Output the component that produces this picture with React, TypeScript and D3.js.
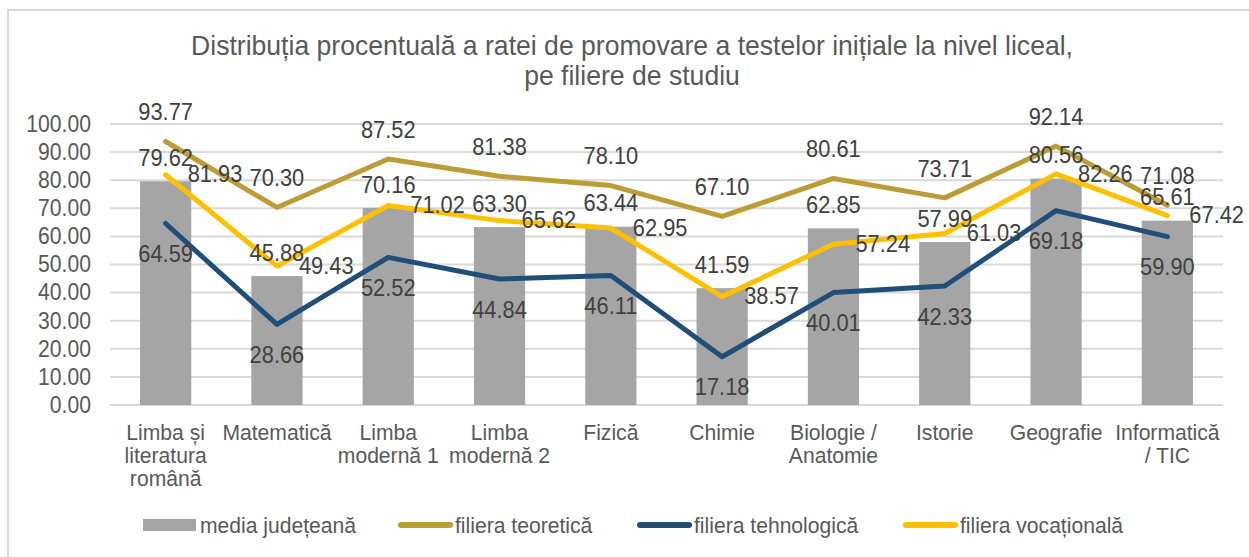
import React from "react";
import * as d3 from "d3";

const categories = [
  ["Limba și", "literatura", "română"],
  ["Matematică"],
  ["Limba", "modernă 1"],
  ["Limba", "modernă 2"],
  ["Fizică"],
  ["Chimie"],
  ["Biologie /", "Anatomie"],
  ["Istorie"],
  ["Geografie"],
  ["Informatică", "/ TIC"],
];
const mediaJudeteana = [79.62, 45.88, 70.16, 63.3, 63.44, 41.59, 62.85, 57.99, 80.56, 65.61];
const filieraTeoretica = [93.77, 70.3, 87.52, 81.38, 78.1, 67.1, 80.61, 73.71, 92.14, 71.08];
const filieraTehnologica = [64.59, 28.66, 52.52, 44.84, 46.11, 17.18, 40.01, 42.33, 69.18, 59.9];
const filieraVocationala = [81.93, 49.43, 71.02, 65.62, 62.95, 38.57, 57.24, 61.03, 82.26, 67.42];
const yTicks = [0, 10, 20, 30, 40, 50, 60, 70, 80, 90, 100];
const titleLines = [
  "Distribuția procentuală a ratei de promovare a testelor inițiale la nivel liceal,",
  "pe filiere de studiu",
];
const legendItems = [
  { label: "media județeană", type: "bar", color: "#a5a5a5" },
  { label: "filiera teoretică", type: "line", color: "#bc9c36" },
  { label: "filiera tehnologică", type: "line", color: "#1f4e79" },
  { label: "filiera vocațională", type: "line", color: "#ffc000" },
];

const FONT = "'Liberation Sans', Arial, sans-serif";

function T({ x, y, children, anchor = "middle", size = 23, sx = 0.95, fill = "#404040" }: any) {
  return (
    <text
      transform={`translate(${x},${y}) scale(${sx},1)`}
      textAnchor={anchor}
      dominantBaseline="central"
      fontSize={size}
      fontFamily={FONT}
      fill={fill}
    >
      {children}
    </text>
  );
}

export default function App() {
  const W = 1249, H = 557;
  const left = 110, right = 1223, top = 124, bottom = 405;
  const x = d3.scaleBand<number>().domain(d3.range(categories.length)).range([left, right]).paddingInner(0.54).paddingOuter(0.27);
  const y = d3.scaleLinear().domain([0, 100]).range([bottom, top]);
  const cx = (i: number) => (x(i) as number) + x.bandwidth() / 2;
  const line = d3.line<number>().x((_, i) => cx(i)).y((d) => y(d));
  const fmt = d3.format(".2f");

  const lines = [
    { data: filieraTeoretica, color: "#bc9c36", pos: "above" },
    { data: filieraTehnologica, color: "#1f4e79", pos: "below" },
    { data: filieraVocationala, color: "#ffc000", pos: "right" },
  ];

  const legendX = [143, 398, 637, 903];

  return (
    <svg width={W} height={H} style={{ position: "absolute", left: 0, top: 0 }}>
      <rect x={0} y={0} width={W} height={H} fill="#fff" />
      <rect x={8} y={10} width={W + 10} height={H + 10} fill="#fff" stroke="#d9d9d9" strokeWidth={2} />
      {titleLines.map((t, i) => (
        <T key={i} x={632} y={46 + i * 30} size={27} sx={0.985} fill="#595959">{t}</T>
      ))}
      {yTicks.map((t) => (
        <g key={t}>
          <line x1={left} x2={right} y1={y(t)} y2={y(t)} stroke="#d9d9d9" strokeWidth={2} />
          <T x={91} y={y(t)} anchor="end" size={23} sx={0.92} fill="#595959">{fmt(t)}</T>
        </g>
      ))}
      {mediaJudeteana.map((v, i) => (
        <rect key={i} x={x(i)} y={y(v)} width={x.bandwidth()} height={y(0) - y(v)} fill="#a5a5a5" />
      ))}
      {lines.map((l, k) => (
        <path key={k} d={line(l.data) as string} fill="none" stroke={l.color} strokeWidth={5} strokeLinejoin="round" strokeLinecap="round" />
      ))}
      {mediaJudeteana.map((v, i) => (
        <T key={i} x={cx(i)} y={y(v) - 23}>{fmt(v)}</T>
      ))}
      {lines.map((l, k) =>
        l.data.map((v, i) => {
          if (l.pos === "above") return <T key={k + "-" + i} x={cx(i)} y={y(v) - 29}>{fmt(v)}</T>;
          if (l.pos === "below") return <T key={k + "-" + i} x={cx(i)} y={y(v) + 31}>{fmt(v)}</T>;
          return <T key={k + "-" + i} x={cx(i) + 22} y={y(v)} anchor="start">{fmt(v)}</T>;
        })
      )}
      {categories.map((c, i) =>
        c.map((s, j) => (
          <T key={i + "-" + j} x={cx(i)} y={432 + j * 23} size={22} sx={0.96} fill="#595959">{s}</T>
        ))
      )}
      {legendItems.map((it, i) => (
        <g key={i}>
          {it.type === "bar" ? (
            <rect x={legendX[i]} y={519} width={53} height={12} fill={it.color} />
          ) : (
            <line x1={legendX[i] + 3} x2={legendX[i] + 52} y1={525} y2={525} stroke={it.color} strokeWidth={6} strokeLinecap="round" />
          )}
          <T x={legendX[i] + 57} y={525} anchor="start" size={22} sx={0.96} fill="#595959">{it.label}</T>
        </g>
      ))}
    </svg>
  );
}
